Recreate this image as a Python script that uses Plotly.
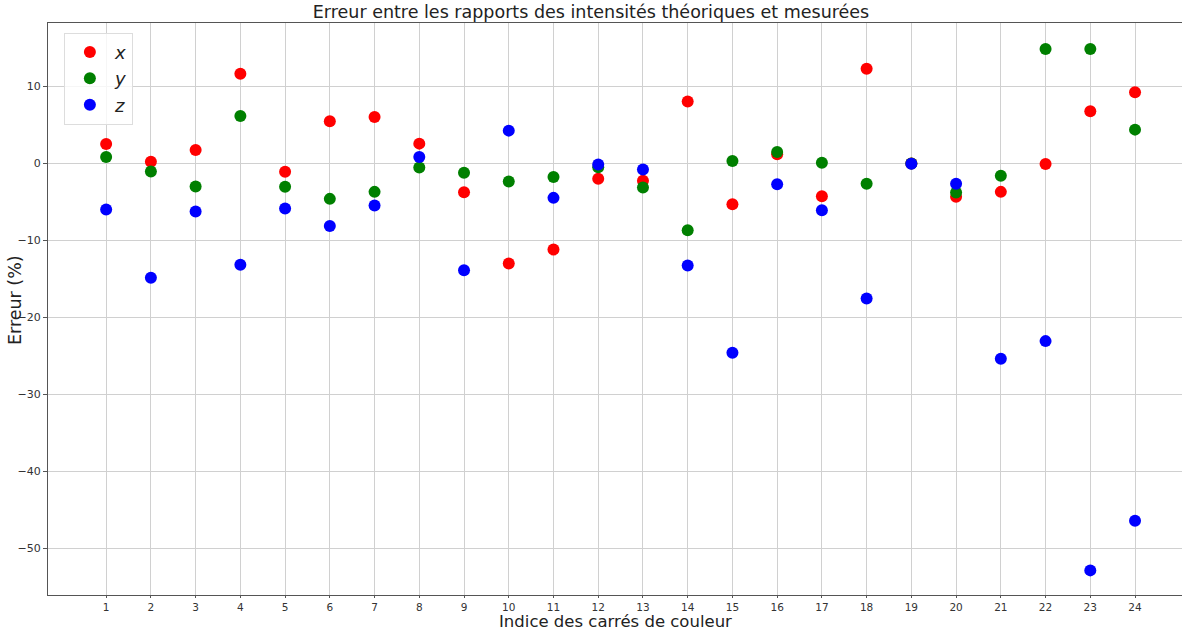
import plotly.graph_objects as go

indices = list(range(1, 25))
err_x = [2.52, 0.22, 1.74, 11.65, -1.09, 5.48, 6.04, 2.57, -3.74, -13.0, -11.2, -2.0,
         -2.26, 8.04, -5.3, 1.2, -4.26, 12.3, 0.0, -4.35, -3.7, -0.09, 6.78, 9.26]
err_y = [0.83, -1.04, -3.0, 6.17, -3.04, -4.61, -3.7, -0.52, -1.22, -2.35, -1.78, -0.5,
         -3.13, -8.7, 0.3, 1.48, 0.09, -2.65, 0.0, -3.78, -1.61, 14.86, 14.86, 4.39]
err_z = [-6.0, -14.87, -6.26, -13.17, -5.87, -8.13, -5.48, 0.83, -13.9, 4.26, -4.48, -0.13,
         -0.78, -13.26, -24.6, -2.7, -6.09, -17.57, -0.04, -2.65, -25.4, -23.1, -52.9, -46.45]
y_ticks = [-50, -40, -30, -20, -10, 0, 10]

fig = go.Figure()
for name, vals, col in [("x", err_x, "#ff0000"), ("y", err_y, "#008000"), ("z", err_z, "#0000ff")]:
    fig.add_trace(go.Scatter(x=indices, y=vals, mode="markers", name=f"<i>{name}</i>",
                             marker=dict(color=col, size=12)))

fig.update_layout(
    width=1182, height=632,
    margin=dict(l=48, r=0, t=23, b=37, autoexpand=False),
    paper_bgcolor="white", plot_bgcolor="white",
    font=dict(family="DejaVu Sans", color="#222"),
    title=dict(text="Erreur entre les rapports des intensités théoriques et mesurées",
               x=0.5, xanchor="center", y=1 - 12 / 632, yanchor="middle",
               yref="container", font=dict(size=17.5, color="#222"), automargin=False),
    legend=dict(x=0.014, y=0.983, xanchor="left", yanchor="top",
                bordercolor="#dddddd", borderwidth=1, bgcolor="rgba(255,255,255,0.8)",
                font=dict(size=18, color="#222"), tracegroupgap=0, itemwidth=40),
    showlegend=True,
    annotations=[
        dict(text="Indice des carrés de couleur", xref="paper", yref="paper",
             x=0.5, y=-(621.5 - 595) / 572, xanchor="center", yanchor="middle",
             showarrow=False, font=dict(size=16.5, color="#222")),
        dict(text="Erreur (%)", xref="paper", yref="paper",
             x=-(48 - 15) / 1134, y=(595 - 300) / 572, xanchor="center", yanchor="middle",
             textangle=-90, showarrow=False, font=dict(size=17.5, color="#222")),
    ],
)
fig.update_xaxes(range=[-0.3, 25.05], tickmode="array", tickvals=indices,
                 ticktext=[str(i) for i in indices], automargin=False,
                 showgrid=True, gridcolor="#d0d0d0", gridwidth=1,
                 showline=True, linecolor="#555", linewidth=1, mirror=True,
                 ticks="outside", ticklen=2, tickcolor="#555",
                 tickfont=dict(size=10.5, color="#333"), zeroline=False)
fig.update_yaxes(range=[-56.1, 18.25], tickmode="array", tickvals=y_ticks, automargin=False,
                 showgrid=True, gridcolor="#d0d0d0", gridwidth=1,
                 showline=True, linecolor="#555", linewidth=1, mirror=True,
                 ticks="outside", ticklen=4, tickcolor="#555",
                 tickfont=dict(size=11, color="#333"), zeroline=False)

fig.write_html("out.html", config={"displayModeBar": False},
               post_script="document.body.style.margin='0';")
